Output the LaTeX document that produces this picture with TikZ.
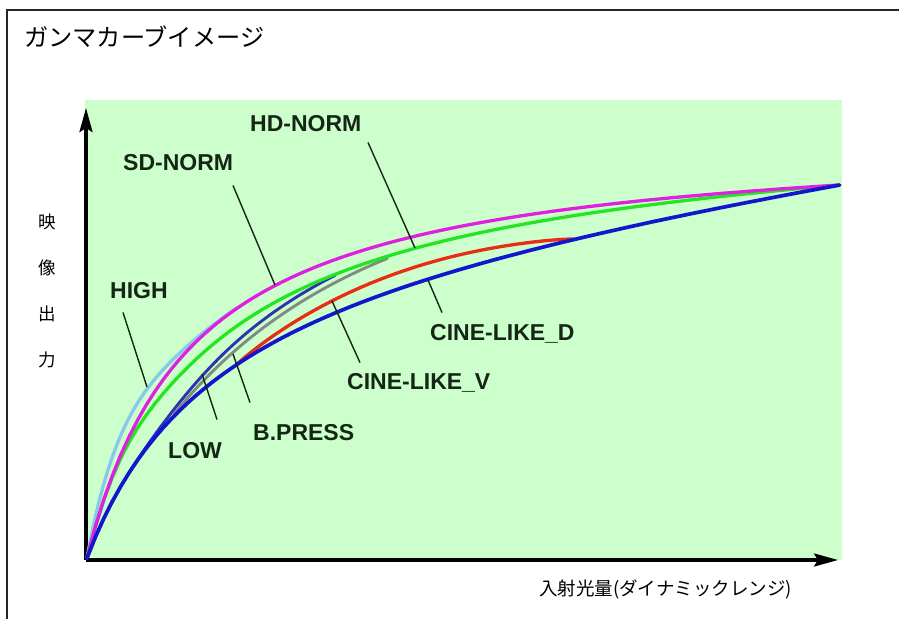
\documentclass[tikz,border=0pt]{standalone}
\usepackage{fontspec}
\setmainfont{Liberation Sans}
\newfontfamily\cjk{Noto Sans CJK JP}
\usetikzlibrary{arrows.meta}

\definecolor{bggreen}{RGB}{204,255,204}
\definecolor{txtcol}{RGB}{22,38,22}
\definecolor{cmagenta}{RGB}{224,32,224}
\definecolor{cgreen}{RGB}{36,228,36}
\definecolor{cblue}{RGB}{18,22,205}
\definecolor{cnavy}{RGB}{44,52,175}
\definecolor{cgray}{RGB}{128,140,128}
\definecolor{cred}{RGB}{232,44,22}
\definecolor{clight}{RGB}{135,200,235}

\begin{document}
\begin{tikzpicture}[x=1pt,y=-1pt,
    declare function={
      vm(\u)=\u*1.14/(\u+0.14);
      vb(\u)=\u*(1.23+0.35*\u)/(1.35*\u+0.23);
      vg(\u)=\u*(1.17+0.04*\u)/(1.04*\u+0.17);
      vh(\u)=\u*1.1/(\u+0.1);
      an(\u)=(0.264-0.236*\u)+(0.23+0.35*\u-(0.264-0.236*\u))*exp(-(\u/0.1)^2);
      px(\u)=87+753*\u;
      py(\v)=558-373*\v;},
    lbl/.style={anchor=west, font=\bfseries\fontsize{23}{23}\selectfont, text=txtcol,
                inner sep=0pt, text height=16.5pt, text depth=0pt},
    leader/.style={line width=1.4pt, draw=txtcol},
    curve/.style={line width=3.3pt, line cap=round, line join=round, samples=90},
    axis/.style={line width=3.2pt, -{Stealth[length=24pt,width=13pt,inset=4pt]}}]

    \useasboundingbox (0,0) rectangle (899,619);

    % 外框
    \draw[line width=1.8pt, black!85] (7,619) -- (7,10) -- (899,10);

    % 标题
    \node[anchor=west, inner sep=0pt, font=\cjk\fontsize{24.2}{25}\selectfont] (title) at (24,37) {ガンマカーブイメージ};

    % 背景
    \fill[bggreen] (85,100) rectangle (842,560);

    % 坐标轴
    \coordinate (O) at (86,560);
    \coordinate (ytip) at (86,108);
    \coordinate (xtip) at (838,560);
    \draw[axis] (O) -- (ytip);
    \draw[axis] (O) -- (xtip);

    % 轴标签
    \node[font=\cjk\fontsize{17.5}{18}\selectfont] (y1) at (47,222) {映};
    \node[font=\cjk\fontsize{17.5}{18}\selectfont] (y2) at (47,268) {像};
    \node[font=\cjk\fontsize{17.5}{18}\selectfont] (y3) at (47,314) {出};
    \node[font=\cjk\fontsize{17.5}{18}\selectfont] (y4) at (47,360) {力};
    \node[anchor=west, inner sep=0pt, font=\cjk\fontsize{18.5}{19}\selectfont] (xlabel) at (539,589) {入射光量(ダイナミックレンジ)};

    % HIGH
    \draw[curve, clight] plot[domain=0:0.2] ({px(\x)},{py(vm(\x)+(vh(\x)-vm(\x))*exp(-(\x/0.1)^2))});
    % LOW
    \draw[curve, cnavy, line width=2.9pt] plot[domain=0:0.33] ({px(\x)},{py(\x*(1+an(\x))/(\x+an(\x)))});
    % B.PRESS
    \draw[curve, cgray, line width=2.9pt] plot[domain=0.115:0.4] ({px(\x)},{py(\x*(1.29-0.24*\x)/(0.76*\x+0.29))});
    % CINE-LIKE_V
    \draw[curve, cred] plot[domain=0.2:0.647] ({px(\x)},{py(vb(\x)+0.044*pow(abs(sin(400.89*(\x-0.199))),0.8))});
    % HD-NORM
    \draw[curve, cgreen] plot[domain=0:1] ({px(\x)},{py(vm(\x)+(vg(\x)-vm(\x))*(1-exp(-(\x/0.08)^2)))});
    % SD-NORM
    \draw[curve, cmagenta] plot[domain=0:1] ({px(\x)},{py(vm(\x))});
    % CINE-LIKE_D
    \draw[curve, cblue, line width=3.7pt] plot[domain=0:1] ({px(\x)},{py(vb(\x))});

    % 标签
    \node[lbl] (hd) at (250,123) {HD-NORM};
    \node[lbl] (sd) at (123,162) {SD-NORM};
    \node[lbl] (high) at (110,290) {HIGH};
    \node[lbl] (low) at (168,450) {LOW};
    \node[lbl] (bp) at (253,432) {B.PRESS};
    \node[lbl] (cv) at (347,381) {CINE-LIKE\_V};
    \node[lbl] (cd) at (430,332) {CINE-LIKE\_D};

    % 引线
    \coordinate (hd-pt) at (415,248);
    \coordinate (sd-pt) at (275,285);
    \coordinate (high-pt) at (147,387);
    \coordinate (low-pt) at (202,374);
    \coordinate (bp-pt) at (233,354);
    \coordinate (cv-pt) at (332,301);
    \coordinate (cd-pt) at (428,280);
    \draw[leader] ([shift={(118,11)}]hd.south west) -- (hd-pt);
    \draw[leader] ([shift={(110,15)}]sd.south west) -- (sd-pt);
    \draw[leader] ([shift={(13,14)}]high.south west) -- (high-pt);
    \draw[leader] ([shift={(49,-22)}]low.north west) -- (low-pt);
    \draw[leader] ([shift={(-3,-21)}]bp.north west) -- (bp-pt);
    \draw[leader] ([shift={(13,-10)}]cv.north west) -- (cv-pt);
    \draw[leader] ([shift={(12,-11)}]cd.north west) -- (cd-pt);

\end{tikzpicture}
\end{document}
